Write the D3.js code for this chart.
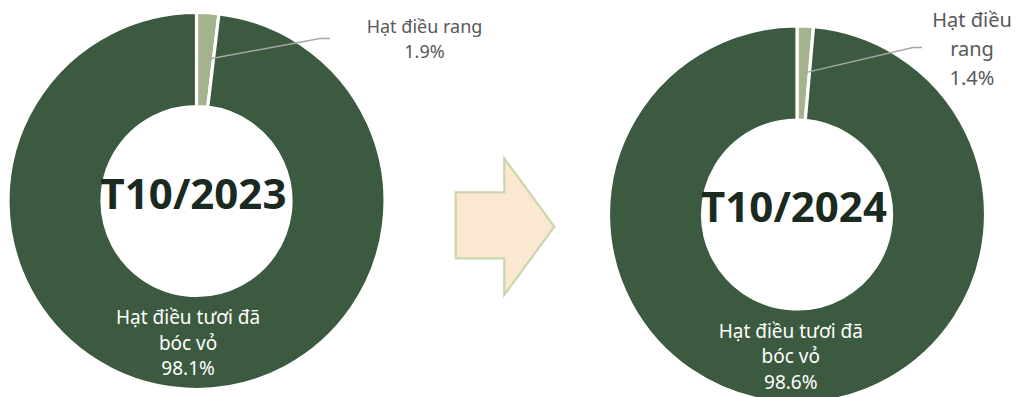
<!DOCTYPE html>
<html lang="vi">
<head>
<meta charset="utf-8">
<script src="https://cdn.jsdelivr.net/npm/d3@7"></script>
<style>
  html, body { margin: 0; padding: 0; background: #ffffff; }
  svg { display: block; }
  text { font-family: "Noto Sans", "Open Sans", sans-serif; }
</style>
</head>
<body>
<svg id="chart" width="1021" height="397"></svg>
<script>
// Cơ cấu xuất khẩu hạt điều theo chủng loại (%)
const periods = ["T10/2023", "T10/2024"];
const categories = ["Hạt điều rang", "Hạt điều tươi đã bóc vỏ"];
const shares2023 = [1.9, 98.1];
const shares2024 = [1.4, 98.6];
// Label lines for each slice (the value line is appended when drawing)
const roastedLines2023 = ["Hạt điều rang"];
const roastedLines2024 = ["Hạt điều", "rang"];
const kernelLines = ["Hạt điều tươi đã", "bóc vỏ"];

const colors = ["#a3b38b", "#3c5a40"];

const svg = d3.select("#chart");
const W = 1021, H = 397;

// Layout of the two donuts and their callout labels
const donuts = [
  { period: periods[0], values: shares2023, roasted: roastedLines2023,
    cx: 196.5, cy: 201, callout: { x: 424.5, y: 33, elbowX: 320, endX: 330, lineY: 38.5, size: 18, step: 25 } },
  { period: periods[1], values: shares2024, roasted: roastedLines2024,
    cx: 797, cy: 214.5, callout: { x: 972, y: 27, elbowX: 913, endX: 922, lineY: 47.5, size: 20, step: 29 } }
];

const rOuter = 188.5, rInner = 94.5;
const pie = d3.pie().sort(null).value(d => d.value);
const arc = d3.arc().innerRadius(rInner).outerRadius(rOuter);
const fmt = v => d3.format(".1f")(v) + "%";

donuts.forEach(cfg => {
  const data = categories.map((c, i) => ({ name: c, value: cfg.values[i], idx: i }));
  const arcs = pie(data);
  const g = svg.append("g").attr("transform", `translate(${cfg.cx},${cfg.cy})`);

  g.selectAll("path.slice")
    .data(arcs)
    .join("path")
    .attr("class", "slice")
    .attr("d", arc)
    .attr("fill", d => colors[d.data.idx])
    .attr("stroke", "#ffffff")
    .attr("stroke-width", 3.2)
    .attr("stroke-linejoin", "miter");

  // Period title in the hole
  g.append("text")
    .attr("x", -3)
    .attr("y", 7.5)
    .attr("text-anchor", "middle")
    .attr("font-size", 42)
    .attr("font-weight", 700)
    .attr("fill", "#1b2a21")
    .text(cfg.period);

  // Label inside the large slice
  const big = arcs[1];
  const [bx, by] = arc.centroid(big);
  const bigLines = kernelLines.concat([fmt(big.data.value)]);
  const bigText = g.append("text")
    .attr("text-anchor", "middle")
    .attr("font-size", 19)
    .attr("fill", "#ffffff");
  bigLines.forEach((t, i) => {
    bigText.append("tspan")
      .attr("x", bx)
      .attr("y", by + 7.5 + (i - 1) * 25.5)
      .text(t);
  });

  // Callout for the small slice
  const small = arcs[0];
  const [sx, sy] = arc.centroid(small);
  const co = cfg.callout;
  g.append("polyline")
    .attr("points", [
      [sx, sy],
      [co.elbowX - cfg.cx, co.lineY - cfg.cy],
      [co.endX - cfg.cx, co.lineY - cfg.cy]
    ].map(p => p.join(",")).join(" "))
    .attr("fill", "none")
    .attr("stroke", "#a6a6a6")
    .attr("stroke-width", 1.5);

  const smallLines = cfg.roasted.concat([fmt(small.data.value)]);
  const smallText = svg.append("text")
    .attr("text-anchor", "middle")
    .attr("font-size", co.size)
    .attr("fill", "#595959");
  smallLines.forEach((t, i) => {
    smallText.append("tspan")
      .attr("x", co.x)
      .attr("y", co.y + i * co.step)
      .text(t);
  });
});

// Block arrow between the two periods
const arrow = { left: 455.7, right: 554.3, top: 158.3, bottom: 295, neck: 504.3, shaftTop: 192.3, shaftBottom: 258.3 };
const midY = (arrow.top + arrow.bottom) / 2;
svg.append("polygon")
  .attr("points", [
    [arrow.left, arrow.shaftTop],
    [arrow.neck, arrow.shaftTop],
    [arrow.neck, arrow.top],
    [arrow.right, midY],
    [arrow.neck, arrow.bottom],
    [arrow.neck, arrow.shaftBottom],
    [arrow.left, arrow.shaftBottom]
  ].map(p => p.join(",")).join(" "))
  .attr("fill", "#fbe8d1")
  .attr("stroke", "#cbd6b0")
  .attr("stroke-width", 2.2)
  .attr("stroke-linejoin", "miter");
</script>
</body>
</html>
